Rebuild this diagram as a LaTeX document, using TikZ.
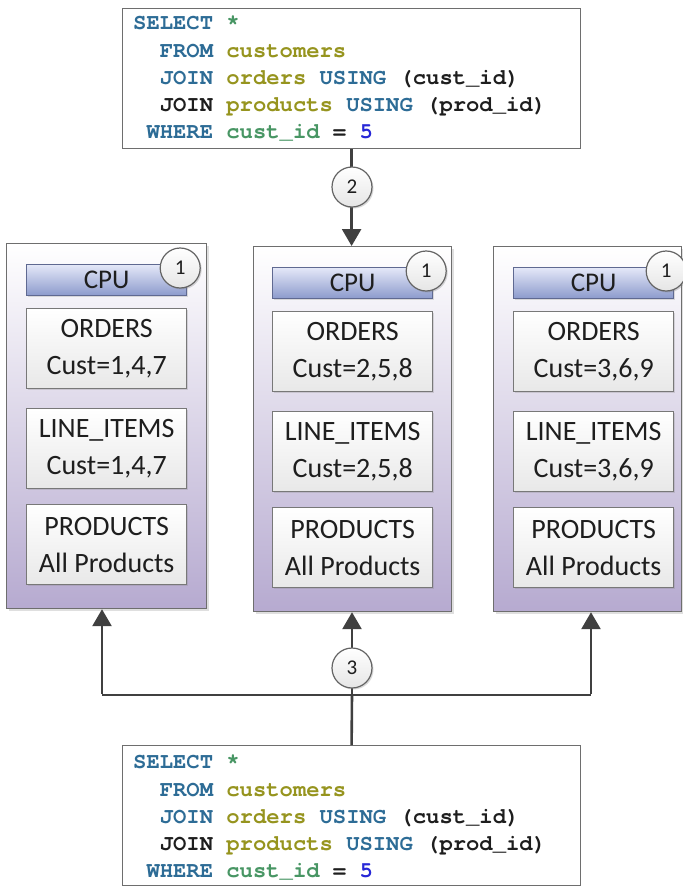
\documentclass[tikz,border=0pt]{standalone}
\usepackage{fontspec}
\usetikzlibrary{arrows.meta,shadows,calc}
\newfontfamily\sqlfont{texgyrecursor}[Extension=.otf, UprightFont=*-regular, BoldFont=*-bold]
\newfontfamily\calfont{Carlito}
\definecolor{kw}{RGB}{45,108,150}
\definecolor{olv}{RGB}{150,148,30}
\definecolor{grn}{RGB}{72,150,100}
\definecolor{nbl}{RGB}{40,40,215}
\definecolor{txc}{RGB}{30,30,30}
\definecolor{arc}{RGB}{64,64,64}
\definecolor{lav}{RGB}{182,170,208}
\definecolor{cpuT}{RGB}{228,232,248}
\definecolor{cpuB}{RGB}{140,154,204}
\definecolor{bdr}{RGB}{110,110,110}
\newcommand\SqK[1]{\textcolor{kw}{#1}}
\newcommand\SqO[1]{\textcolor{olv}{#1}}
\newcommand\SqG[1]{\textcolor{grn}{#1}}
\newcommand\SqN[1]{\textcolor{nbl}{#1}}
\tikzset{
  sqlbox/.style={draw=bdr, line width=1.2pt, fill=white, minimum width=458pt, minimum height=140pt, anchor=north west, inner sep=0pt},
  sqlline/.style={anchor=base west, inner sep=0pt, font=\sqlfont\bfseries\fontsize{22.2}{27}\selectfont, text=txc},
  panel/.style={draw=bdr, line width=1.2pt, top color=white, bottom color=lav, anchor=north west, inner sep=0pt,
    drop shadow={shadow xshift=2pt, shadow yshift=-2pt, opacity=0.25}},
  cpubar/.style={draw={rgb,255:red,95;green,105;blue,145}, line width=1.2pt, top color=cpuT, bottom color=cpuB, anchor=north west,
    minimum width=160pt, minimum height=31pt, inner sep=0pt, text=txc, font=\calfont\fontsize{27}{32}\selectfont,
    drop shadow={shadow xshift=1.5pt, shadow yshift=-1.5pt, opacity=0.25}},
  tblbox/.style={draw={rgb,255:red,120;green,120;blue,120}, line width=1.4pt, top color=white, bottom color={rgb,255:red,232;green,232;blue,232},
    anchor=north west, minimum width=160pt, minimum height=80pt, inner sep=0pt, align=center, text=txc,
    font=\calfont\fontsize{28}{37}\selectfont, drop shadow={shadow xshift=1.5pt, shadow yshift=-1.5pt, opacity=0.25}},
  numc/.style={circle, draw={rgb,255:red,100;green,100;blue,100}, line width=1.2pt, top color=white, bottom color=black!10,
    minimum size=40pt, inner sep=0pt, text=txc, font=\calfont\fontsize{21}{24}\selectfont,
    drop shadow={shadow xshift=1.5pt, shadow yshift=-1.5pt, opacity=0.3}},
  arr/.style={draw=arc, line width=2.6pt, -{Triangle[length=17pt,width=19pt]}},
  plain/.style={draw=arc, line width=2.6pt}
}
\begin{document}
\begin{tikzpicture}[x=1pt,y=-1pt]
\useasboundingbox (0,0) rectangle (683,887);
\fill[white] (0,0) rectangle (683,887);

% SQL boxes
\node[sqlbox] (q1) at (122,8) {};
\node[sqlbox] (q2) at (122,745) {};
\foreach \nm/\dy in {t/0, b/739} {
  \node[sqlline] (\nm l1) at (133,29+\dy) {\SqK{SELECT} \SqG{*}};
  \node[sqlline] (\nm l2) at (159.6,57+\dy) {\SqK{FROM} \SqO{customers}};
  \node[sqlline] (\nm l3) at (159.6,84+\dy) {\SqK{JOIN} \SqO{orders} \SqK{USING} (cust\_id)};
  \node[sqlline] (\nm l4) at (159.6,111+\dy) {JOIN \SqO{products} \SqK{USING} (prod\_id)};
  \node[sqlline] (\nm l5) at (146.3,138+\dy) {\SqK{WHERE} \SqG{cust\_id} = \SqN{5}};
}

% panels
\node[panel, minimum width=200pt, minimum height=365pt] (p1) at (6,243) {};
\node[panel, minimum width=198pt, minimum height=365pt] (p2) at (253,246) {};
\node[panel, minimum width=188pt, minimum height=365pt] (p3) at (493,246) {};

% panel contents
\foreach \k/\x/\y/\c in {1/26/243/{1,4,7}, 2/272/246/{2,5,8}, 3/513/246/{3,6,9}} {
  \node[cpubar] (cpu\k) at (\x,\y+21) {CPU};
  \node[tblbox] (ord\k) at (\x,\y+65) {ORDERS\\Cust=\c};
  \node[tblbox] (li\k) at (\x,\y+165) {LINE\_ITEMS\\Cust=\c};
  \node[tblbox] (pr\k) at (\x,\y+261) {PRODUCTS\\All Products};
}

% connectors
\draw[arr] (q1.south) -- (q1.south |- p2.north);
\coordinate (jc) at (352,695);
\coordinate (jl) at (102,695);
\coordinate (jr) at (591,695);
\draw[plain] (q2.north) -- (jc);
\draw[arr] (jc) -- (jc |- p2.south);
\draw[plain] (jl) -- (jr);
\draw[arr] ([yshift=1.3pt]jl) -- (jl |- p1.south);
\draw[arr] ([yshift=1.3pt]jr) -- (jr |- p3.south);

% number circles
\node[numc] (n1a) at ($(cpu1.north east)+(-7,4)$) {1};
\node[numc] (n1b) at ($(cpu2.north east)+(-7,4)$) {1};
\node[numc] (n1c) at ($(cpu3.north east)+(-8,4)$) {1};
\node[numc] (n2) at (352,187) {2};
\node[numc] (n3) at (352,668) {3};
\end{tikzpicture}
\end{document}
